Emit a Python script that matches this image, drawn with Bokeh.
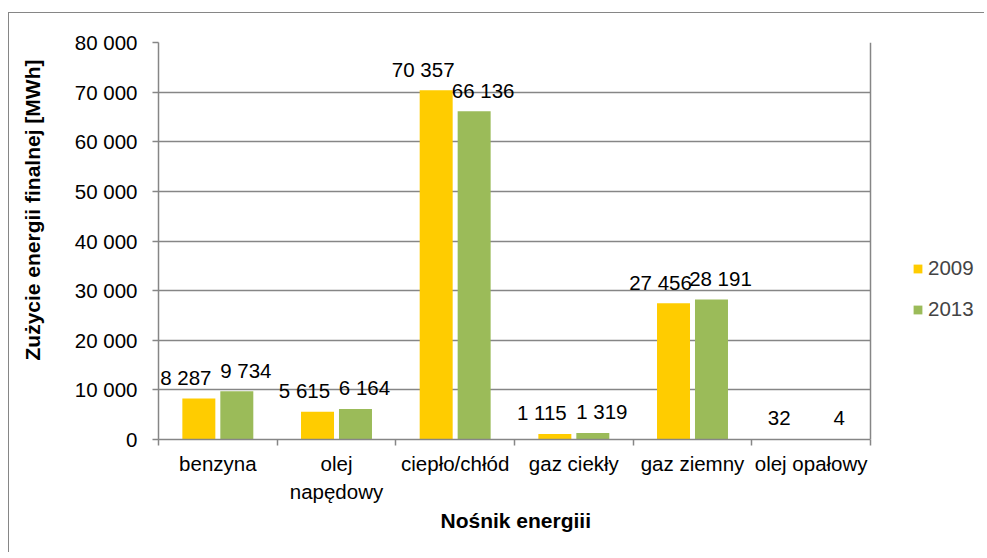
import numpy as np
from bokeh.plotting import figure
from bokeh.models import (Range1d, FixedTicker, ColumnDataSource, LabelSet, Legend,
                          LegendItem, Title)
from bokeh.core.properties import value
from bokeh.embed import file_html
from bokeh.resources import INLINE

# ---- data ----
categories = ["benzyna", "olej\nnapędowy", "ciepło/chłód", "gaz ciekły", "gaz ziemny", "olej opałowy"]
series_names = ["2009", "2013"]
values_2009 = [8287, 5615, 70357, 1115, 27456, 32]
values_2013 = [9734, 6164, 66136, 1319, 28191, 4]
y_ticks = [0, 10000, 20000, 30000, 40000, 50000, 60000, 70000, 80000]
y_tick_labels = ["0", "10 000", "20 000", "30 000", "40 000", "50 000", "60 000", "70 000", "80 000"]
x_title = "Nośnik energiii"
y_title = "Zużycie energii finalnej [MWh]"

# ---- style ----
FONT = "Liberation Sans"
GRAY = "#868686"
YELLOW = "#FFCC00"
GREEN = "#9BBB59"
FS = "20.5px"
FS_T = "21px"

W, H = 976, 540
BL, BT, BB = 149, 29, 114
AREA_PX = 712           # pixel width of the plot area holding the categories
FRAME_PX = W - BL       # frame extends to the right edge (legend lives there)

n = len(categories)
idx = np.arange(n)
centers = idx + 0.5
off = 0.16
bw = 0.278
x_end = n * FRAME_PX / AREA_PX

p = figure(width=W, height=H, output_backend="svg", toolbar_location=None,
           x_range=Range1d(0, x_end), y_range=Range1d(0, 80000),
           min_border_left=BL, min_border_top=BT, min_border_right=0, min_border_bottom=BB,
           margin=(12, 0, 0, 8))
p.styles = {"border-top": "1px solid #868686", "border-left": "1px solid #868686"}
p.background_fill_color = "white"
p.border_fill_color = "white"
p.outline_line_color = None

fmt = lambda v: f"{v:,}".replace(",", " ")
src1 = ColumnDataSource(dict(x=centers - off, y=values_2009, t=[fmt(v) for v in values_2009]))
src2 = ColumnDataSource(dict(x=centers + off, y=values_2013, t=[fmt(v) for v in values_2013]))

r1 = p.vbar(x="x", top="y", width=bw, source=src1, fill_color=YELLOW, line_color=None)
r2 = p.vbar(x="x", top="y", width=bw, source=src2, fill_color=GREEN, line_color=None)

for src, xo in ((src1, -13), (src2, 9)):
    ls = LabelSet(x="x", y="y", text="t", source=src, x_offset=xo, y_offset=21,
                  text_align="center", text_baseline="middle",
                  text_font=value(FONT), text_font_size=value(FS), text_color="black")
    p.add_layout(ls)

# x axis
xa = p.xaxis[0]
xa.bounds = (0, n)
xa.ticker = FixedTicker(ticks=list(centers), minor_ticks=list(map(float, range(n + 1))))
xa.major_label_overrides = {float(c): lab for c, lab in zip(centers, categories)}
xa.major_tick_in = 0
xa.major_tick_out = 0
xa.minor_tick_in = 0
xa.minor_tick_out = 6
xa.minor_tick_line_color = GRAY
xa.minor_tick_line_width = 1.5
xa.axis_line_color = GRAY
xa.axis_line_width = 1.5
xa.major_label_text_font = FONT
xa.major_label_text_font_size = FS
xa.major_label_text_color = "black"
xa.major_label_text_line_height = 1.25
xa.major_label_standoff = 6

xt = Title(text=x_title, align="left", offset=282, standoff=0,
           text_font=FONT, text_font_size=FS_T, text_font_style="bold", text_color="black")
p.add_layout(xt, "below")

# y axis
ya = p.yaxis[0]
ya.ticker = FixedTicker(ticks=y_ticks, minor_ticks=[])
ya.major_label_overrides = {t: l for t, l in zip(y_ticks, y_tick_labels)}
ya.major_tick_in = 0
ya.major_tick_out = 6
ya.major_tick_line_color = GRAY
ya.major_tick_line_width = 1.5
ya.minor_tick_out = 0
ya.minor_tick_in = 0
ya.axis_line_color = GRAY
ya.axis_line_width = 1.5
ya.major_label_text_font = FONT
ya.major_label_text_font_size = FS
ya.major_label_text_color = "black"
ya.major_label_standoff = 15

# blank spacer between tick labels and the y title
p.add_layout(Title(text=" ", text_font=FONT, text_font_size="10px"), "left")
yt = Title(text=y_title, align="right", offset=17,
           text_font=FONT, text_font_size=FS_T, text_font_style="bold", text_color="black")
p.add_layout(yt, "left")

# plot-area lines: horizontal grid limited to the category area, right edge of the area
p.ygrid.grid_line_color = GRAY
p.ygrid.grid_line_width = 1.5
p.ygrid.cross_bounds = (0, n)
p.xgrid.ticker = FixedTicker(ticks=[float(n)], minor_ticks=[])
p.xgrid.grid_line_color = GRAY
p.xgrid.grid_line_width = 1.5

legend = Legend(items=[LegendItem(label=series_names[0], renderers=[r1]),
                       LegendItem(label=series_names[1], renderers=[r2])],
                location=(754, 118), orientation="vertical")
legend.border_line_color = None
legend.background_fill_alpha = 0
legend.padding = 0
legend.margin = 0
legend.glyph_width = 11
legend.glyph_height = 11
legend.label_standoff = 5
legend.spacing = 17
legend.label_height = 20
legend.label_text_font = FONT
legend.label_text_font_size = FS
legend.label_text_baseline = "middle"
p.add_layout(legend)

open("out.html", "w").write(file_html(p, INLINE))
